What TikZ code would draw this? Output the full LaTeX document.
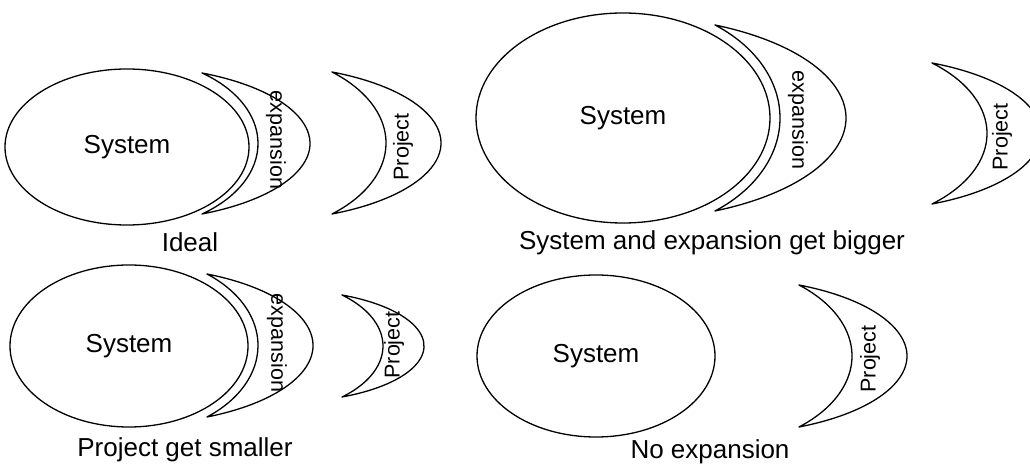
\documentclass[tikz,border=0pt]{standalone}
\usepackage{fontspec}
\setmainfont{Liberation Sans}
\usetikzlibrary{shapes.geometric}
% #1 tip x, #2 mid y, #3 half height, #4 inner right x, #5 outer right x,
% #6 outer ellipse factor, #7 inner ellipse factor, #8 name
\newcommand\drawMoon[8]{%
  \pgfmathsetmacro\mCo{sqrt(1-1/(#6*#6))}%
  \pgfmathsetmacro\mTo{acos(\mCo)}%
  \pgfmathsetmacro\mXo{(#1-\mCo*#5)/(1-\mCo)}%
  \pgfmathsetmacro\mAo{#5-\mXo}%
  \pgfmathsetmacro\mBo{#6*#3}%
  \pgfmathsetmacro\mCi{sqrt(1-1/(#7*#7))}%
  \pgfmathsetmacro\mTi{acos(\mCi)}%
  \pgfmathsetmacro\mXi{(#1-\mCi*#4)/(1-\mCi)}%
  \pgfmathsetmacro\mAi{#4-\mXi}%
  \pgfmathsetmacro\mBi{#7*#3}%
  \draw[moonline] (#1,#2+#3) coordinate (#8-t)
    arc[start angle=\mTo, end angle=-\mTo, x radius=\mAo pt, y radius=\mBo pt]
    coordinate (#8-b)
    arc[start angle=-\mTi, end angle=\mTi, x radius=\mAi pt, y radius=\mBi pt]
    -- cycle;
}
\tikzset{
  sysbox/.style={draw, ellipse, line width=1.3pt, inner sep=0pt,
    font=\fontsize{26}{30}\selectfont},
  moonline/.style={draw, line width=1.3pt, line join=round},
  caption/.style={font=\fontsize{26}{30}\selectfont, inner sep=0pt},
  vlabel/.style={font=\fontsize{21.5}{25}\selectfont, inner sep=0pt},
}
\begin{document}
\begin{tikzpicture}[x=1pt, y=1pt]
\useasboundingbox (0,0) rectangle (1030,468);
\clip (0,0) rectangle (1030,468);
% ---- Panel 1: Ideal
\node[sysbox, minimum width=244pt, minimum height=156pt] (s1) at (127,321) {System};
\drawMoon{202}{324.5}{70.5}{258}{310}{1.1}{1.22}{e1}
\node[vlabel, rotate=-90] (e1l) at (276,328) {expansion};
\drawMoon{332}{325}{71}{386}{441}{1.1}{1.3}{p1}
\node[vlabel, rotate=90] (p1l) at (403,321) {Project};
\node[caption] (c1) at (190,226) {Ideal};
% ---- Panel 2: System and expansion get bigger
\node[sysbox, minimum width=294pt, minimum height=210pt] (s2) at (623,350) {System};
\drawMoon{715}{350}{93}{780}{846}{1.1}{1.23}{e2}
\node[vlabel, rotate=-90] (e2l) at (798,348) {expansion};
\drawMoon{932}{334.5}{70.5}{987}{1041}{1.1}{1.3}{p2}
\node[vlabel, rotate=90] (p2l) at (1002,331) {Project};
\node[caption] (c2) at (712,225) {System and expansion get bigger};
% ---- Panel 3: Project get smaller
\node[sysbox, minimum width=238pt, minimum height=162pt] (s3) at (129,122) {System};
\drawMoon{207}{122.5}{71.5}{258}{313}{1.1}{1.256}{e3}
\node[vlabel, rotate=-90] (e3l) at (277,125) {expansion};
\drawMoon{342}{122}{51}{383}{424}{1.1}{1.3}{p3}
\node[vlabel, rotate=90] (p3l) at (394,123) {Project};
\node[caption] (c3) at (185,18) {Project get smaller};
% ---- Panel 4: No expansion
\node[sysbox, minimum width=238pt, minimum height=162pt] (s4) at (596,112) {System};
\drawMoon{799}{112}{71}{852}{907}{1.1}{1.3}{p4}
\node[vlabel, rotate=90] (p4l) at (870,109) {Project};
\node[caption] (c4) at (710,16) {No expansion};
\end{tikzpicture}
\end{document}
